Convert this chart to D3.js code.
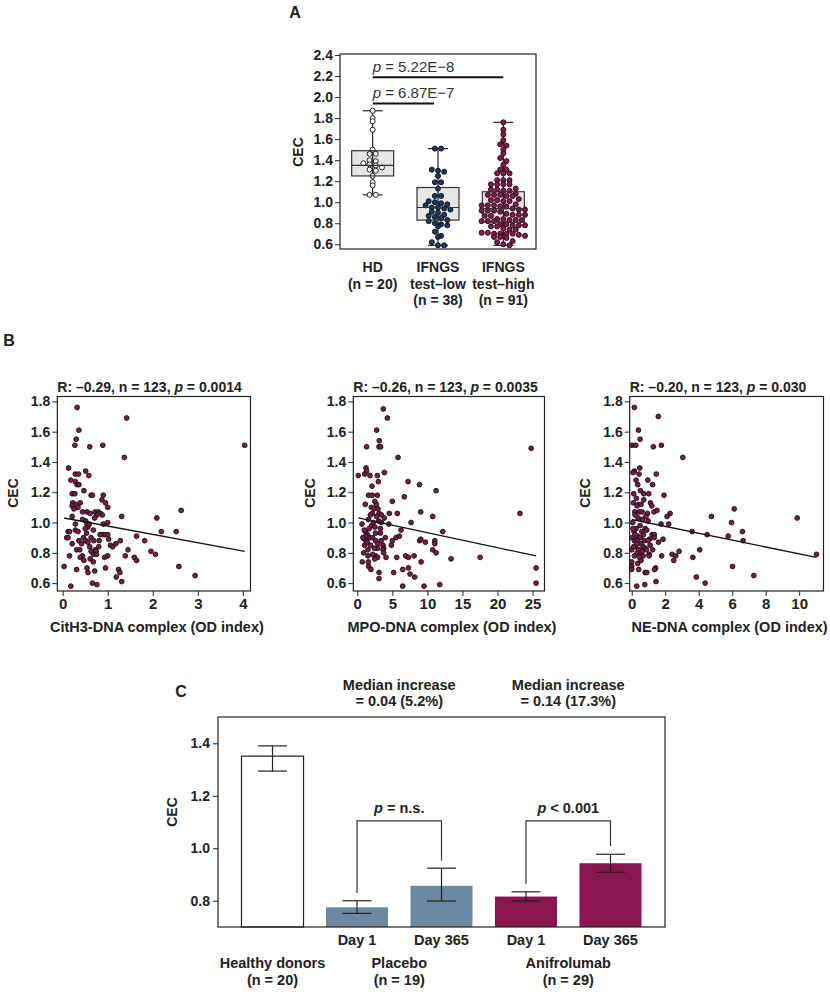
<!DOCTYPE html>
<html>
<head>
<meta charset="utf-8">
<script src="https://cdn.jsdelivr.net/npm/d3@7"></script>
<style>
  body { margin: 0; background: #fff; }
  text { font-family: "Liberation Sans", Arial, sans-serif; }
</style>
</head>
<body>
<script>
// ---------------- DATA ----------------
// Panel A
const groupsA = ["HD", "IFNGS test–low", "IFNGS test–high"];
const groupLabelsA = [["HD", "(n = 20)"], ["IFNGS", "test–low", "(n = 38)"], ["IFNGS", "test–high", "(n = 91)"]];
const hdVals = [1.87,1.80,1.77,1.69,1.50,1.46,1.46,1.40,1.39,1.37,1.36,1.35,1.33,1.31,1.30,1.25,1.19,1.16,1.07,1.07];
const lowVals = [1.51,1.51,1.31,1.30,1.29,1.25,1.19,1.19,1.13,1.06,1.06,1.01,1.00,0.99,0.98,0.97,0.95,0.95,0.94,0.93,
                 0.91,0.90,0.88,0.87,0.86,0.85,0.83,0.82,0.80,0.79,0.78,0.77,0.72,0.68,0.67,0.62,0.59,0.59];
const highVals = [1.76,1.69,1.645,1.59,1.55,1.54,1.50,1.465,1.42,1.39,1.355,1.31,1.31,1.275,1.275,1.275,1.21,1.21,1.21,
                  1.17,1.17,1.17,1.17,1.13,1.12,1.12,1.11,1.11,1.08,1.07,1.07,1.07,1.06,1.06,1.03,1.02,1.02,1.01,1.01,
                  0.98,0.97,0.97,0.97,0.96,0.96,0.94,0.93,0.93,0.92,0.92,0.92,0.91,0.89,0.88,0.88,0.88,0.87,0.87,
                  0.84,0.84,0.83,0.83,0.83,0.82,0.82,0.82,0.79,0.79,0.78,0.78,0.78,0.77,0.77,0.75,0.74,0.74,
                  0.71,0.71,0.70,0.70,0.70,0.70,0.69,0.68,0.67,0.67,0.66,0.63,0.62,0.60,0.59];
const q1A  = [1.25, 0.83, 0.81];
const medA = [1.35, 0.95, 0.94];
const q3A  = [1.49, 1.14, 1.10];
const loA  = [1.07, 0.59, 0.59];
const hiA  = [1.87, 1.51, 1.76];
const yTicksA = [0.6,0.8,1.0,1.2,1.4,1.6,1.8,2.0,2.2,2.4];
const sigPairs = [[0,2],[0,1]];
const sigY = [2.19, 1.94];
const sigText = ["5.22E−8", "6.87E−7"];

// Panel B
const cith3Pts = [[0.32,1.76],[1.42,1.69],[0.36,1.61],[0.30,1.55],[0.27,1.51],[0.60,1.50],[0.89,1.51],[4.04,1.51],[1.37,1.43],
 [0.13,1.36],[0.51,1.34],[0.28,1.32],[0.35,1.32],[0.58,1.31],[0.18,1.28],[0.28,1.27],[0.32,1.25],[0.36,1.25],[0.47,1.21],
 [0.21,1.19],[0.27,1.19],[0.63,1.18],[0.66,1.18],[0.90,1.18],[0.22,1.13],[0.87,1.15],[0.39,1.13],[0.21,1.11],[0.30,1.12],
 [0.34,1.10],[0.95,1.13],[1.00,1.10],[0.44,1.07],[0.54,1.07],[0.61,1.06],[0.72,1.07],[0.79,1.07],[0.84,1.06],[0.21,1.04],
 [0.76,1.05],[0.88,1.05],[1.31,1.04],[0.71,1.03],[0.51,1.01],[0.54,0.99],[0.90,0.99],[1.00,1.00],[0.28,0.99],[2.09,1.03],
 [2.63,1.08],[0.56,0.97],[0.28,0.95],[0.12,0.94],[0.15,0.94],[2.19,0.94],[2.52,0.94],[0.50,0.96],[0.89,0.92],[0.94,0.92],
 [0.83,0.92],[1.00,0.92],[0.68,0.95],[0.09,0.90],[0.46,0.90],[0.63,0.90],[1.02,0.89],[1.64,0.91],[0.21,0.86],[0.36,0.88],
 [0.51,0.88],[0.69,0.88],[0.81,0.88],[1.28,0.88],[1.82,0.88],[1.06,0.85],[1.11,0.84],[0.60,0.84],[0.72,0.82],[0.31,0.82],
 [0.38,0.82],[0.63,0.81],[0.74,0.81],[1.45,0.82],[1.96,0.81],[2.06,0.79],[0.68,0.79],[0.75,0.79],[0.44,0.78],[0.15,0.78],
 [0.39,0.77],[0.93,0.77],[1.00,0.78],[1.39,0.78],[1.59,0.77],[1.64,0.75],[0.47,0.75],[0.61,0.76],[0.68,0.74],[0.03,0.71],
 [0.95,0.70],[2.58,0.71],[0.31,0.69],[0.54,0.70],[0.56,0.67],[0.71,0.68],[1.24,0.69],[1.27,0.67],[1.19,0.64],[1.31,0.61],
 [0.66,0.60],[0.76,0.59],[0.18,0.58],[2.94,0.65],[0.44,1.02],[0.59,0.99],[0.34,0.94],[0.42,0.86],[0.56,0.87],[0.80,0.84],
 [0.25,1.09],[0.53,0.93],[1.18,0.86],[0.12,0.90]];
const mpoPts = [[3.71,1.75],[4.29,1.69],[2.76,1.61],[3.14,1.54],[3.10,1.50],[3.33,1.50],[1.33,1.50],[24.8,1.49],[5.81,1.43],
 [0.14,1.31],[1.24,1.36],[1.33,1.34],[1.05,1.32],[1.81,1.31],[2.86,1.31],[3.86,1.33],[3.00,1.27],[7.24,1.27],[2.10,1.24],
 [8.86,1.25],[11.24,1.21],[1.62,1.18],[2.14,1.18],[2.86,1.18],[6.71,1.17],[5.00,1.14],[1.14,1.12],[2.71,1.12],[2.00,1.10],
 [2.38,1.09],[2.95,1.09],[2.14,1.06],[1.86,1.05],[3.10,1.06],[3.43,1.05],[4.57,1.06],[5.71,1.06],[9.05,1.07],[10.76,1.04],
 [2.76,1.04],[3.86,1.03],[3.05,1.01],[0.67,0.99],[3.43,1.00],[7.67,1.00],[23.2,1.06],[2.05,0.98],[2.52,0.97],[6.24,0.95],
 [12.19,0.94],[1.19,0.94],[1.43,0.92],[3.29,0.93],[5.52,0.90],[6.00,0.91],[1.81,0.90],[2.19,0.90],[1.05,0.89],[1.29,0.88],
 [2.62,0.88],[5.00,0.88],[8.90,0.88],[9.05,0.89],[9.71,0.87],[11.05,0.88],[11.05,0.86],[1.05,0.85],[1.90,0.85],[2.90,0.86],
 [3.67,0.85],[4.86,0.85],[3.76,0.83],[2.90,0.83],[1.52,0.82],[2.43,0.83],[3.67,0.82],[10.76,0.82],[11.24,0.80],[3.76,0.80],
 [1.52,0.78],[2.62,0.78],[2.90,0.77],[5.62,0.77],[6.90,0.78],[7.29,0.77],[8.10,0.78],[4.10,0.77],[13.38,0.76],[17.52,0.77],
 [0.71,0.74],[1.57,0.74],[2.48,0.76],[9.10,0.74],[1.62,0.71],[1.95,0.69],[3.10,0.67],[3.10,0.63],[6.48,0.69],[7.29,0.70],
 [5.19,0.67],[7.52,0.66],[8.19,0.64],[6.48,0.58],[9.52,0.58],[11.76,0.59],[25.5,0.70],[25.5,0.60],[4.50,0.99],[1.00,0.95],
 [1.70,0.96],[2.30,1.00],[1.20,0.91],[2.60,0.93],[1.40,0.87],[3.40,0.88],[0.90,0.80],[2.20,0.79],[3.30,0.96],[1.60,1.02],
 [0.80,0.90],[2.50,1.14],[4.00,0.90]];
const nePts = [[0.16,1.76],[1.59,1.70],[0.40,1.61],[0.50,1.55],[0.02,1.51],[0.24,1.51],[1.29,1.50],[1.77,1.51],[3.05,1.43],
 [0.48,1.36],[0.16,1.34],[0.44,1.32],[1.47,1.32],[0.08,1.33],[0.26,1.28],[0.96,1.28],[0.36,1.25],[1.25,1.25],[0.52,1.21],
 [1.02,1.19],[0.12,1.19],[0.72,1.19],[1.93,1.18],[0.72,1.15],[0.10,1.13],[0.42,1.12],[1.12,1.13],[0.32,1.11],[0.56,1.12],
 [1.20,1.11],[6.12,1.09],[0.18,1.07],[0.44,1.07],[0.62,1.07],[0.94,1.06],[1.33,1.07],[1.51,1.08],[2.29,1.06],[2.11,1.04],
 [4.76,1.04],[0.38,1.03],[9.88,1.03],[0.64,1.02],[0.98,1.01],[5.96,1.00],[0.06,1.00],[1.75,0.99],[2.21,0.99],[0.26,0.96],
 [0.14,0.94],[0.80,0.96],[3.61,0.94],[6.61,0.94],[4.50,0.92],[5.76,0.91],[6.65,0.88],[1.22,0.92],[1.35,0.92],[0.36,0.91],
 [0.02,0.90],[0.52,0.90],[1.06,0.89],[1.87,0.89],[0.16,0.88],[0.32,0.88],[0.76,0.88],[0.98,0.88],[1.35,0.90],[0.54,0.86],
 [0.24,0.84],[0.68,0.84],[0.80,0.83],[0.88,0.82],[0.00,0.82],[0.42,0.82],[2.83,0.81],[4.06,0.82],[0.16,0.78],[0.58,0.79],
 [0.68,0.78],[1.04,0.79],[1.04,0.78],[1.79,0.78],[2.41,0.79],[2.63,0.78],[2.51,0.75],[3.65,0.77],[0.32,0.80],[0.56,0.75],
 [0.00,0.74],[1.43,0.70],[1.37,0.69],[0.42,0.69],[0.00,0.71],[0.00,0.69],[0.80,0.67],[0.90,0.67],[6.02,0.71],[7.29,0.65],
 [3.86,0.64],[4.38,0.60],[1.45,0.61],[0.30,0.58],[0.78,0.59],[11.03,0.79],[0.20,0.92],[0.60,0.94],[0.30,0.86],[0.70,0.92],
 [0.50,0.98],[0.85,1.04],[0.12,0.84],[0.46,0.77],[1.10,0.85],[0.28,1.16],[0.62,0.81],[1.60,0.87],[0.20,1.05],[0.90,0.95],
 [0.36,0.73],[1.25,0.82],[0.08,0.96]];
const scatterTitles = [["R: –0.29, n = 123, ", "p", " = 0.0014"], ["R: –0.26, n = 123, ", "p", " = 0.0035"], ["R: –0.20, n = 123, ", "p", " = 0.030"]];
const scatterXLabels = ["CitH3-DNA complex (OD index)", "MPO-DNA complex (OD index)", "NE-DNA complex (OD index)"];
const scatterXTicks = [[0,1,2,3,4], [0,5,10,15,20,25], [0,2,4,6,8,10]];
const scatterYTicks = [0.6,0.8,1.0,1.2,1.4,1.6,1.8];
const fitIntercept = [1.0316, 1.0314, 1.020];
const fitSlope = [-0.0549, -0.00986, -0.02267];

// Panel C
const barKeys = ["HD", "PBO D1", "PBO D365", "ANI D1", "ANI D365"];
const barValues = [1.351, 0.775, 0.857, 0.816, 0.943];
const barErrLo  = [1.294, 0.752, 0.799, 0.799, 0.908];
const barErrHi  = [1.390, 0.800, 0.924, 0.834, 0.977];
const barSub = ["", "Day 1", "Day 365", "Day 1", "Day 365"];
const groupNamesC = ["Healthy donors", "Placebo", "Anifrolumab"];
const groupNC = ["(n = 20)", "(n = 19)", "(n = 29)"];
const groupBarsC = [[0], [1,2], [3,4]];
const yTicksC = [0.8, 1.0, 1.2, 1.4];
const bracketPairs = [[1,2],[3,4]];
const bracketTop = [1.104, 1.104];
const bracketLeftEnd = [0.830, 0.865];
const bracketRightEnd = [0.952, 1.009];
const bracketText = [["p", " = n.s."], ["p", " < 0.001"]];
const medianIncrease = [["Median increase", "= 0.04 (5.2%)"], ["Median increase", "= 0.14 (17.3%)"]];

// ---------------- STYLE ----------------
const FONT = 14;
const colHD = "#ffffff", colLow = "#1d3a5e", colHigh = "#8b1a4a";
const colPBO = "#6b8aa2", colANI = "#8a1650";
const dotFill = "#7d1a45";

const svg = d3.select("body").append("svg").attr("width", 830).attr("height", 992);

function styleAxis(g) {
  g.select(".domain").remove();
  g.selectAll(".tick line").attr("stroke", "#222").attr("stroke-width", 1);
  g.selectAll(".tick text").attr("font-size", FONT).attr("font-weight", "bold")
    .attr("fill", "#222").attr("font-family", '"Liberation Sans", Arial, sans-serif');
}
function frame(x0, y0, x1, y1, w) {
  svg.append("rect").attr("x", x0).attr("y", y0).attr("width", x1 - x0).attr("height", y1 - y0)
    .attr("fill", "none").attr("stroke", "#222").attr("stroke-width", w || 1.2);
}
function boldText(x, y, t, anchor, size) {
  return svg.append("text").attr("x", x).attr("y", y).attr("text-anchor", anchor || "middle")
    .attr("font-size", size || FONT).attr("font-weight", "bold").attr("fill", "#222").text(t);
}
function yLabel(x, y, t) {
  svg.append("text").attr("transform", `translate(${x},${y}) rotate(-90)`)
    .attr("text-anchor", "middle").attr("dominant-baseline", "central")
    .attr("font-size", FONT).attr("font-weight", "bold").attr("fill", "#222").text(t);
}

// ---------------- PANEL A ----------------
{
  const L = 340, R = 536, T = 54, B = 249;
  const y = d3.scaleLinear().domain([0.555, 2.41]).range([B, T]);
  const x = d3.scaleBand().domain(groupsA).range([L, R]);
  const cx = g => x(g) + x.bandwidth() / 2;
  const boxW = 42, capW = 20, r = 2.5;
  const vals = [hdVals, lowVals, highVals];
  const fills = [colHD, colLow, colHigh];
  const strokes = ["#222", "#0b1626", "#2a0a16"];

  boldText(295, 18, "A", "middle", 16);
  yLabel(298, 152, "CEC");

  groupsA.forEach((g, i) => {
    const c = cx(g);
    svg.append("rect").attr("x", c - boxW / 2).attr("y", y(q3A[i])).attr("width", boxW)
      .attr("height", y(q1A[i]) - y(q3A[i])).attr("fill", "#e6e6e6").attr("stroke", "none");
    svg.append("line").attr("x1", c).attr("x2", c).attr("y1", y(loA[i])).attr("y2", y(hiA[i]))
      .attr("stroke", "#222").attr("stroke-width", 1.2);
    [loA[i], hiA[i]].forEach(v => svg.append("line").attr("x1", c - capW / 2).attr("x2", c + capW / 2)
      .attr("y1", y(v)).attr("y2", y(v)).attr("stroke", "#222").attr("stroke-width", 1.2));
    // dot-plot layout: values binned into rows, each row spread symmetrically
    const bins = d3.groups(vals[i], v => Math.round((v - 0.6) / 0.05));
    const pts = [];
    const step = 6.2;
    bins.forEach(([key, vs]) => {
      vs.forEach((v, j) => {
        let off = (j - (vs.length - 1) / 2) * step;
        pts.push({ v, py: y(v), dx: off });
      });
    });
    svg.append("g").selectAll("circle").data(pts).join("circle")
      .attr("cx", d => c + d.dx).attr("cy", d => d.py).attr("r", r)
      .attr("fill", fills[i]).attr("stroke", strokes[i]).attr("stroke-width", 1);
    svg.append("rect").attr("x", c - boxW / 2).attr("y", y(q3A[i])).attr("width", boxW)
      .attr("height", y(q1A[i]) - y(q3A[i])).attr("fill", "none").attr("stroke", "#333").attr("stroke-width", 1.2);
    svg.append("line").attr("x1", c - boxW / 2).attr("x2", c + boxW / 2).attr("y1", y(medA[i])).attr("y2", y(medA[i]))
      .attr("stroke", "#333").attr("stroke-width", 1.2);
    groupLabelsA[i].forEach((t, j) => boldText(c, 272 + j * 16.5, t));
  });

  frame(L, T, R, B);
  const ax = svg.append("g").attr("transform", `translate(${L},0)`)
    .call(d3.axisLeft(y).tickValues(yTicksA).tickFormat(d3.format(".1f")).tickSize(5).tickPadding(2));
  styleAxis(ax);

  sigPairs.forEach((p, i) => {
    const x1 = cx(groupsA[p[0]]), x2 = cx(groupsA[p[1]]) - (p[1] === 1 ? 4 : 0);
    svg.append("line").attr("x1", x1).attr("x2", x2).attr("y1", y(sigY[i])).attr("y2", y(sigY[i]))
      .attr("stroke", "#111").attr("stroke-width", 2);
    const t = svg.append("text").attr("x", x1).attr("y", y(sigY[i]) - 5).attr("font-size", 15).attr("fill", "#333");
    t.append("tspan").attr("font-style", "italic").text("p");
    t.append("tspan").text(" = " + sigText[i]);
  });
}

// ---------------- PANEL B ----------------
boldText(9, 346, "B", "middle", 16);
const scatterCfg = [
  { pts: cith3Pts, L: 57.3, R: 250.5, xd: [-0.12, 4.17], ylx: 13 },
  { pts: mpoPts, L: 353.3, R: 544.5, xd: [-0.57, 26.7], ylx: 310 },
  { pts: nePts, L: 629.7, R: 823.5, xd: [-0.12, 11.45], ylx: 585 }
];
scatterCfg.forEach((cfg, i) => {
  const T = 396.5, B = 591;
  const y = d3.scaleLinear().domain([0.548, 1.832]).range([B, T]);
  const x = d3.scaleLinear().domain(cfg.xd).range([cfg.L, cfg.R]);
  frame(cfg.L, T, cfg.R, B, 1.2);
  const ay = svg.append("g").attr("transform", `translate(${cfg.L},0)`)
    .call(d3.axisLeft(y).tickValues(scatterYTicks).tickFormat(d3.format(".1f")).tickSize(5).tickPadding(2));
  styleAxis(ay);
  const axx = svg.append("g").attr("transform", `translate(0,${B})`)
    .call(d3.axisBottom(x).tickValues(scatterXTicks[i]).tickFormat(d3.format("d")).tickSize(5).tickPadding(2));
  styleAxis(axx);
  axx.selectAll(".tick text").attr("font-size", 15);
  const xs = cfg.pts.map(d => d[0]);
  const x0 = d3.min(xs), x1 = d3.max(xs);
  svg.append("g").selectAll("circle").data(cfg.pts).join("circle")
    .attr("cx", d => x(d[0])).attr("cy", d => y(d[1])).attr("r", 2.4)
    .attr("fill", dotFill).attr("stroke", "#111").attr("stroke-width", 0.9);
  svg.append("line").attr("x1", x(x0)).attr("x2", x(x1))
    .attr("y1", y(fitIntercept[i] + fitSlope[i] * x0)).attr("y2", y(fitIntercept[i] + fitSlope[i] * x1))
    .attr("stroke", "#111").attr("stroke-width", 1.3);
  const t = svg.append("text").attr("x", cfg.L).attr("y", 392).attr("font-size", FONT)
    .attr("font-weight", "bold").attr("fill", "#222");
  t.append("tspan").text(scatterTitles[i][0]);
  t.append("tspan").attr("font-style", "italic").text(scatterTitles[i][1]);
  t.append("tspan").text(scatterTitles[i][2]);
  boldText((cfg.L + cfg.R) / 2 + 3, 632, scatterXLabels[i], "middle", 14.5);
  yLabel(cfg.ylx, 493, "CEC");
});

// ---------------- PANEL C ----------------
{
  const L = 218, R = 665, T = 717, B = 927;
  const y = d3.scaleLinear().domain([0.7, 1.5]).range([B, T]);
  const x = d3.scaleBand().domain(barKeys).range([L, R]).paddingInner(0.266).paddingOuter(0.278);
  const cx = k => x(k) + x.bandwidth() / 2;
  const fills = [colHD, colPBO, colPBO, colANI, colANI];
  boldText(181, 697, "C", "middle", 16);
  yLabel(172, 812, "CEC");

  svg.append("g").selectAll("rect").data(barKeys).join("rect")
    .attr("x", k => x(k)).attr("width", x.bandwidth())
    .attr("y", (k, i) => y(barValues[i])).attr("height", (k, i) => B - y(barValues[i]))
    .attr("fill", (k, i) => fills[i])
    .attr("stroke", (k, i) => i === 0 ? "#222" : "none").attr("stroke-width", 1.2);

  const capW = 29;
  barKeys.forEach((k, i) => {
    const c = cx(k);
    svg.append("line").attr("x1", c).attr("x2", c).attr("y1", y(barErrLo[i])).attr("y2", y(barErrHi[i]))
      .attr("stroke", "#222").attr("stroke-width", 1.2);
    [barErrLo[i], barErrHi[i]].forEach(v => svg.append("line").attr("x1", c - capW / 2).attr("x2", c + capW / 2)
      .attr("y1", y(v)).attr("y2", y(v)).attr("stroke", "#222").attr("stroke-width", 1.2));
    if (barSub[i]) boldText(c, 945, barSub[i], "middle", 14.5);
  });

  frame(L, T, R, B, 1.2);
  const ay = svg.append("g").attr("transform", `translate(${L},0)`)
    .call(d3.axisLeft(y).tickValues(yTicksC).tickFormat(d3.format(".1f")).tickSize(5).tickPadding(3));
  styleAxis(ay);

  bracketPairs.forEach((p, i) => {
    const a = cx(barKeys[p[0]]), b = cx(barKeys[p[1]]);
    svg.append("path")
      .attr("d", `M${a},${y(bracketLeftEnd[i])}V${y(bracketTop[i])}H${b}V${y(bracketRightEnd[i])}`)
      .attr("fill", "none").attr("stroke", "#333").attr("stroke-width", 1.2);
    const t = svg.append("text").attr("x", (a + b) / 2).attr("y", y(bracketTop[i]) - 8)
      .attr("text-anchor", "middle").attr("font-size", 14.5).attr("font-weight", "bold").attr("fill", "#222");
    t.append("tspan").attr("font-style", "italic").text(bracketText[i][0]);
    t.append("tspan").text(bracketText[i][1]);
    medianIncrease[i].forEach((s, j) => boldText((a + b) / 2, 690 + j * 16, s, "middle", 14.5));
  });

  groupBarsC.forEach((bars, gi) => {
    const c = d3.mean(bars, j => cx(barKeys[j]));
    boldText(c, 968, groupNamesC[gi], "middle", 14.5);
    boldText(c, 985, groupNC[gi], "middle", 14.5);
  });
}
</script>
</body>
</html>
